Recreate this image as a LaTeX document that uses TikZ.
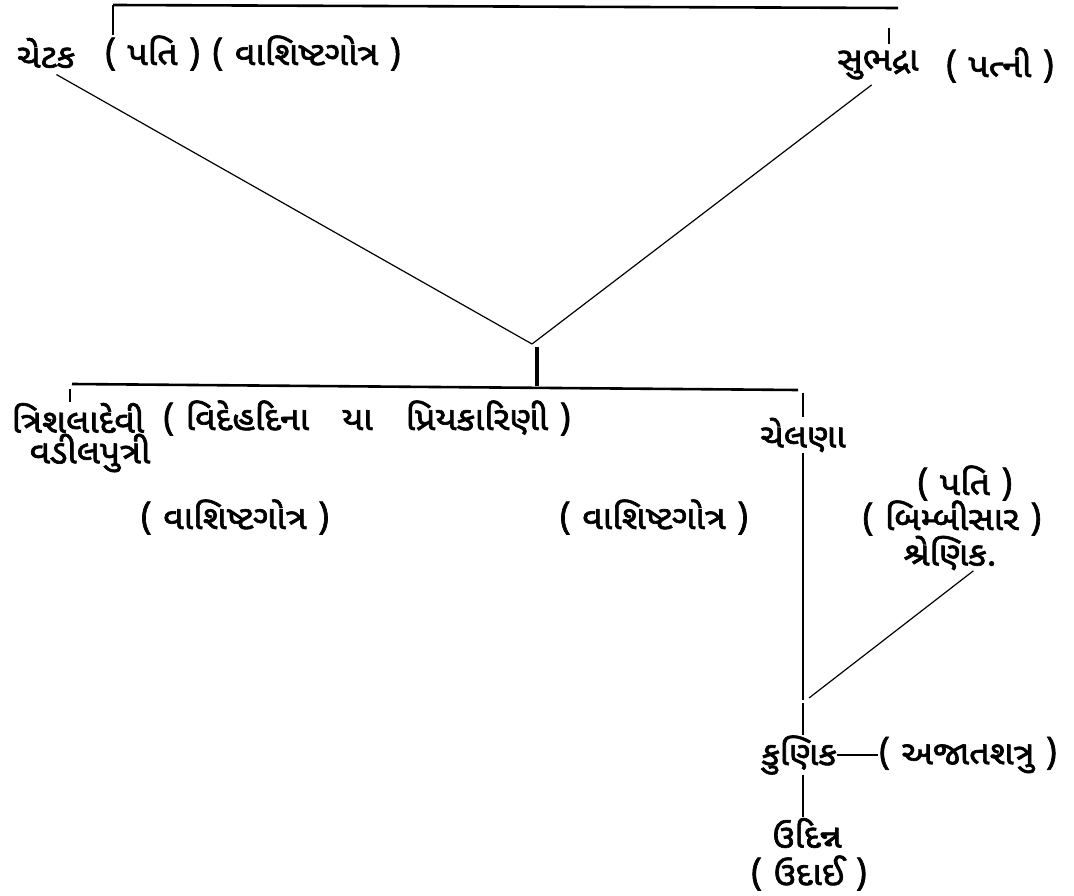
\documentclass[tikz,border=0pt]{standalone}
\usepackage{fontspec}
\newfontfamily\gujfont[Script=Gujarati,FakeBold=2,FakeStretch=1.08]{Noto Sans Gujarati UI}
\usepackage{tikz}
\usetikzlibrary{positioning,calc}

\tikzset{
  person/.style={font=\gujfont\fontsize{33}{37}\selectfont, inner sep=0.5pt},
  link/.style={line width=1.2pt},
  bar/.style={line width=2.6pt}
}

\begin{document}
\begin{tikzpicture}[x=1pt, y=-1pt]
\useasboundingbox (0,0) rectangle (1074,896);
% parents
\node[person] (chetak) at (46,53) {ચેટક};
\node[person] (chetakinfo) at (253,53) {( પતિ ) ( વાશિષ્ટગોત્ર )};
\node[person] (subhadra) at (878,65) {સુભદ્રા};
\node[person] (subhadrainfo) at (1000,65) {( પત્ની )};
\coordinate (topL) at (113,5);
\coordinate (topR) at (898,8);
\coordinate (subtop) at (889,28);
\coordinate (subfoot) at (889,44);
\draw[bar] (topL) -- (topR);
\draw[link] (topL) -- (topL |- chetakinfo.north);
\draw[link] (subtop) -- (subfoot);
% marriage lines meet above the children
\coordinate (par) at (532,344);
\coordinate (stubtop) at (537,347);
\coordinate (kids) at (537,386);
\draw[link, shorten <=12pt] (chetak.south) -- (par);
\draw[link, shorten <=8pt] (subhadra.south) -- (par);
\draw[line width=3.5pt] (stubtop) -- (kids);
% daughters
\coordinate (barL) at (72,384);
\coordinate (barR) at (798,390);
\draw[bar] (barL) -- (barR);
\node[person] (trishala) at (78,418) {ત્રિશલાદેવી};
\node[person] (trishalainfo) at (367,418) {( વિદેહદિના\quad યા\quad પ્રિયકારિણી )};
\node[person] (vadil) at (90,453) {વડીલપુત્રી};
\node[person] (gotraA) at (235,517) {( વાશિષ્ટગોત્ર )};
\node[person] (chelana) at (803,435) {ચેલણા};
\node[person] (gotraB) at (654,517) {( વાશિષ્ટગોત્ર )};
\coordinate (trtop) at (70,389);
\coordinate (chtop) at (803,393);
\draw[link] (trtop) -- (trtop |- trishala.north);
\draw[link] (chtop) -- (chelana.north);
% husband
\node[person] (pati) at (965,483) {( પતિ )};
\node[person] (bimbi) at (952,518) {( બિમ્બીસાર )};
\node[person] (shrenik) at (950,553) {શ્રેણિક.};
\coordinate (mate) at (803,700);
\draw[link] (chelana.south) -- (mate);
\draw[link] ($(shrenik.south)!0.5!(shrenik.south east)$) -- ($(mate)+(6,-2)$);
% son and grandson
\node[person] (kunik) at (799,755) {કુણિક};
\node[person] (ajat) at (968,755) {( અજાતશત્રુ )};
\node[person] (udinna) at (807,833) {ઉદિન્ન};
\node[person] (udai) at (809,873) {( ઉદાઈ )};
\draw[link, shorten <=3pt] (mate) -- (kunik.north -| mate);
\draw[link] (kunik.east) -- (ajat.west);
\draw[link] (kunik.south -| mate) -- (udinna.north -| mate);
\end{tikzpicture}
\end{document}
